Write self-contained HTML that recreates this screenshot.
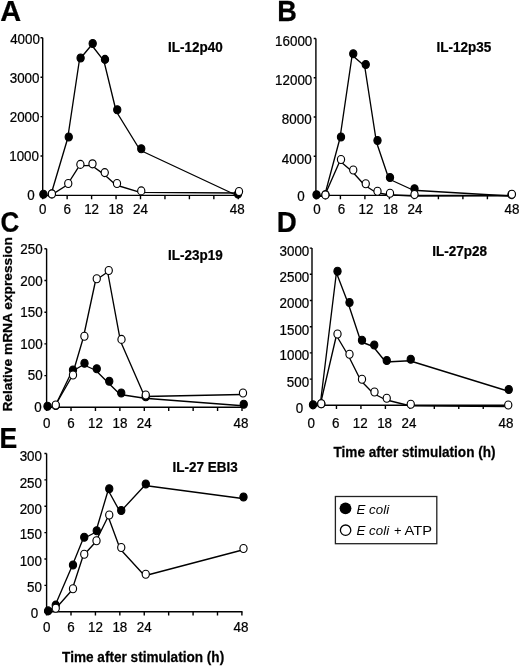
<!DOCTYPE html>
<html><head><meta charset="utf-8"><style>
html,body{margin:0;padding:0;background:#fff;}
svg{display:block;will-change:transform;}
text{font-family:"Liberation Sans", sans-serif;fill:#000;}
.t{stroke:#000;stroke-width:0.25px;}
</style></head><body>
<svg width="520" height="666" viewBox="0 0 520 666">
<g id="pA"><path d="M42.7 37.8V195.4H238.9" fill="none" stroke="#000" stroke-width="1.4"/>
<path d="M40.5 37.8H42.7M40.5 77.2H42.7M40.5 116.6H42.7M40.5 156H42.7M40.5 195.4H42.7M42.7 195.4V199.2M67.15 195.4V199.2M91.6 195.4V199.2M116.05 195.4V199.2M140.5 195.4V199.2M164.95 195.4V199.2M189.4 195.4V199.2M213.85 195.4V199.2M238.3 195.4V199.2" fill="none" stroke="#000" stroke-width="1.4"/>
<text transform="translate(39.9 43.6) scale(0.93 1)" class="t" text-anchor="end" font-size="14.4">4000</text>
<text transform="translate(39.5 83) scale(0.93 1)" class="t" text-anchor="end" font-size="14.4">3000</text>
<text transform="translate(39.5 122.3) scale(0.93 1)" class="t" text-anchor="end" font-size="14.4">2000</text>
<text transform="translate(39 161.2) scale(0.93 1)" class="t" text-anchor="end" font-size="14.4">1000</text>
<text transform="translate(34.6 199.9) scale(0.93 1)" class="t" text-anchor="end" font-size="14.4">0</text>
<text transform="translate(42.7 214.3) scale(0.93 1)" class="t" text-anchor="middle" font-size="14.4">0</text>
<text transform="translate(67.15 214.3) scale(0.93 1)" class="t" text-anchor="middle" font-size="14.4">6</text>
<text transform="translate(91.6 214.3) scale(0.93 1)" class="t" text-anchor="middle" font-size="14.4">12</text>
<text transform="translate(116.05 214.3) scale(0.93 1)" class="t" text-anchor="middle" font-size="14.4">18</text>
<text transform="translate(140.5 214.3) scale(0.93 1)" class="t" text-anchor="middle" font-size="14.4">24</text>
<text transform="translate(237.3 214.3) scale(0.93 1)" class="t" text-anchor="middle" font-size="14.4">48</text>
<text transform="translate(168 51.5) scale(0.93 1)" class="t" font-size="14.5" font-weight="bold">IL-12p40</text>
<text transform="translate(0.23 20.5) scale(0.98 1)" class="t" font-size="29.5" font-weight="bold">A</text>
<polyline transform="translate(-1.1 1.5)" points="43.4,194.2 51.8,194 68.75,137 80.6,58 92.7,43.5 105,59.4 117.25,109.75 141.25,148.75 238,194" fill="none" stroke="#000" stroke-width="1.35" stroke-linejoin="round"/>
<ellipse cx="43.4" cy="194.2" rx="3.6" ry="4.0" fill="#000" stroke="#000" stroke-width="1.15"/>
<ellipse cx="51.8" cy="194" rx="3.6" ry="4.0" fill="#000" stroke="#000" stroke-width="1.15"/>
<ellipse cx="68.75" cy="137" rx="3.6" ry="4.0" fill="#000" stroke="#000" stroke-width="1.15"/>
<ellipse cx="80.6" cy="58" rx="3.6" ry="4.0" fill="#000" stroke="#000" stroke-width="1.15"/>
<ellipse cx="92.7" cy="43.5" rx="3.6" ry="4.0" fill="#000" stroke="#000" stroke-width="1.15"/>
<ellipse cx="105" cy="59.4" rx="3.6" ry="4.0" fill="#000" stroke="#000" stroke-width="1.15"/>
<ellipse cx="117.25" cy="109.75" rx="3.6" ry="4.0" fill="#000" stroke="#000" stroke-width="1.15"/>
<ellipse cx="141.25" cy="148.75" rx="3.6" ry="4.0" fill="#000" stroke="#000" stroke-width="1.15"/>
<ellipse cx="238" cy="194" rx="3.6" ry="4.0" fill="#000" stroke="#000" stroke-width="1.15"/>
<polyline transform="translate(-1.1 1.5)" points="51.9,193.9 68.25,183.5 80.4,164.4 92.5,163.8 104.75,172.6 117,183.5 141.25,190.9 239,191.5" fill="none" stroke="#000" stroke-width="1.35" stroke-linejoin="round"/>
<ellipse cx="51.9" cy="193.9" rx="3.6" ry="4.0" fill="#fff" stroke="#000" stroke-width="1.15"/>
<ellipse cx="68.25" cy="183.5" rx="3.6" ry="4.0" fill="#fff" stroke="#000" stroke-width="1.15"/>
<ellipse cx="80.4" cy="164.4" rx="3.6" ry="4.0" fill="#fff" stroke="#000" stroke-width="1.15"/>
<ellipse cx="92.5" cy="163.8" rx="3.6" ry="4.0" fill="#fff" stroke="#000" stroke-width="1.15"/>
<ellipse cx="104.75" cy="172.6" rx="3.6" ry="4.0" fill="#fff" stroke="#000" stroke-width="1.15"/>
<ellipse cx="117" cy="183.5" rx="3.6" ry="4.0" fill="#fff" stroke="#000" stroke-width="1.15"/>
<ellipse cx="141.25" cy="190.9" rx="3.6" ry="4.0" fill="#fff" stroke="#000" stroke-width="1.15"/>
<ellipse cx="239" cy="191.5" rx="3.6" ry="4.0" fill="#fff" stroke="#000" stroke-width="1.15"/></g>
<g id="pB"><path d="M315.9 38.5V195.4H512.5" fill="none" stroke="#000" stroke-width="1.4"/>
<path d="M313.7 38.5H315.9M313.7 77.72H315.9M313.7 116.95H315.9M313.7 156.18H315.9M313.7 195.4H315.9M315.9 195.4V199.2M340.4 195.4V199.2M364.9 195.4V199.2M389.4 195.4V199.2M413.9 195.4V199.2M438.4 195.4V199.2M462.9 195.4V199.2M487.4 195.4V199.2M511.9 195.4V199.2" fill="none" stroke="#000" stroke-width="1.4"/>
<text transform="translate(312.3 46.1) scale(0.93 1)" class="t" text-anchor="end" font-size="14.4">16000</text>
<text transform="translate(312.3 84.7) scale(0.93 1)" class="t" text-anchor="end" font-size="14.4">12000</text>
<text transform="translate(311.6 124.2) scale(0.93 1)" class="t" text-anchor="end" font-size="14.4">8000</text>
<text transform="translate(311.6 163.7) scale(0.93 1)" class="t" text-anchor="end" font-size="14.4">4000</text>
<text transform="translate(304.7 200.5) scale(0.93 1)" class="t" text-anchor="end" font-size="14.4">0</text>
<text transform="translate(316.9 214.1) scale(0.93 1)" class="t" text-anchor="middle" font-size="14.4">0</text>
<text transform="translate(341.4 214.1) scale(0.93 1)" class="t" text-anchor="middle" font-size="14.4">6</text>
<text transform="translate(365.9 214.1) scale(0.93 1)" class="t" text-anchor="middle" font-size="14.4">12</text>
<text transform="translate(390.4 214.1) scale(0.93 1)" class="t" text-anchor="middle" font-size="14.4">18</text>
<text transform="translate(414.9 214.1) scale(0.93 1)" class="t" text-anchor="middle" font-size="14.4">24</text>
<text transform="translate(511.9 214.1) scale(0.93 1)" class="t" text-anchor="middle" font-size="14.4">48</text>
<text transform="translate(436.5 51.5) scale(0.93 1)" class="t" font-size="14.5" font-weight="bold">IL-12p35</text>
<text transform="translate(277.35 20.7) scale(0.92 1)" class="t" font-size="29.5" font-weight="bold">B</text>
<polyline transform="translate(-1.1 1.5)" points="316.5,194.8 325.5,194.8 341,137 353.25,53.75 365.75,64.5 377.5,140.5 390,177.5 414.5,188.75 511.5,194.5" fill="none" stroke="#000" stroke-width="1.35" stroke-linejoin="round"/>
<ellipse cx="316.5" cy="194.8" rx="3.6" ry="4.0" fill="#000" stroke="#000" stroke-width="1.15"/>
<ellipse cx="325.5" cy="194.8" rx="3.6" ry="4.0" fill="#000" stroke="#000" stroke-width="1.15"/>
<ellipse cx="341" cy="137" rx="3.6" ry="4.0" fill="#000" stroke="#000" stroke-width="1.15"/>
<ellipse cx="353.25" cy="53.75" rx="3.6" ry="4.0" fill="#000" stroke="#000" stroke-width="1.15"/>
<ellipse cx="365.75" cy="64.5" rx="3.6" ry="4.0" fill="#000" stroke="#000" stroke-width="1.15"/>
<ellipse cx="377.5" cy="140.5" rx="3.6" ry="4.0" fill="#000" stroke="#000" stroke-width="1.15"/>
<ellipse cx="390" cy="177.5" rx="3.6" ry="4.0" fill="#000" stroke="#000" stroke-width="1.15"/>
<ellipse cx="414.5" cy="188.75" rx="3.6" ry="4.0" fill="#000" stroke="#000" stroke-width="1.15"/>
<ellipse cx="511.5" cy="194.5" rx="3.6" ry="4.0" fill="#000" stroke="#000" stroke-width="1.15"/>
<polyline transform="translate(-1.1 1.5)" points="325.4,194.9 341,159.5 353.25,170 365.75,183.75 377.5,191.25 390,193.25 414.5,194.5 511.9,194.2" fill="none" stroke="#000" stroke-width="1.35" stroke-linejoin="round"/>
<ellipse cx="325.4" cy="194.9" rx="3.6" ry="4.0" fill="#fff" stroke="#000" stroke-width="1.15"/>
<ellipse cx="341" cy="159.5" rx="3.6" ry="4.0" fill="#fff" stroke="#000" stroke-width="1.15"/>
<ellipse cx="353.25" cy="170" rx="3.6" ry="4.0" fill="#fff" stroke="#000" stroke-width="1.15"/>
<ellipse cx="365.75" cy="183.75" rx="3.6" ry="4.0" fill="#fff" stroke="#000" stroke-width="1.15"/>
<ellipse cx="377.5" cy="191.25" rx="3.6" ry="4.0" fill="#fff" stroke="#000" stroke-width="1.15"/>
<ellipse cx="390" cy="193.25" rx="3.6" ry="4.0" fill="#fff" stroke="#000" stroke-width="1.15"/>
<ellipse cx="414.5" cy="194.5" rx="3.6" ry="4.0" fill="#fff" stroke="#000" stroke-width="1.15"/>
<ellipse cx="511.9" cy="194.2" rx="3.6" ry="4.0" fill="#fff" stroke="#000" stroke-width="1.15"/></g>
<g id="pC"><path d="M46.6 248.8V407.3H242.6" fill="none" stroke="#000" stroke-width="1.4"/>
<path d="M44.4 248.8H46.6M44.4 280.5H46.6M44.4 312.2H46.6M44.4 343.9H46.6M44.4 375.6H46.6M44.4 407.3H46.6M46.6 407.3V411.1M71.03 407.3V411.1M95.45 407.3V411.1M119.88 407.3V411.1M144.3 407.3V411.1M168.72 407.3V411.1M193.15 407.3V411.1M217.57 407.3V411.1M242 407.3V411.1" fill="none" stroke="#000" stroke-width="1.4"/>
<text transform="translate(42.6 253.9) scale(0.93 1)" class="t" text-anchor="end" font-size="14.4">250</text>
<text transform="translate(42.6 285.5) scale(0.93 1)" class="t" text-anchor="end" font-size="14.4">200</text>
<text transform="translate(42.6 316.5) scale(0.93 1)" class="t" text-anchor="end" font-size="14.4">150</text>
<text transform="translate(42.6 348.7) scale(0.93 1)" class="t" text-anchor="end" font-size="14.4">100</text>
<text transform="translate(42.6 380.2) scale(0.93 1)" class="t" text-anchor="end" font-size="14.4">50</text>
<text transform="translate(41.7 411.7) scale(0.93 1)" class="t" text-anchor="end" font-size="14.4">0</text>
<text transform="translate(46.6 427.9) scale(0.93 1)" class="t" text-anchor="middle" font-size="14.4">0</text>
<text transform="translate(71.03 427.9) scale(0.93 1)" class="t" text-anchor="middle" font-size="14.4">6</text>
<text transform="translate(95.45 427.9) scale(0.93 1)" class="t" text-anchor="middle" font-size="14.4">12</text>
<text transform="translate(119.88 427.9) scale(0.93 1)" class="t" text-anchor="middle" font-size="14.4">18</text>
<text transform="translate(144.3 427.9) scale(0.93 1)" class="t" text-anchor="middle" font-size="14.4">24</text>
<text transform="translate(241 427.9) scale(0.93 1)" class="t" text-anchor="middle" font-size="14.4">48</text>
<text transform="translate(168 259.6) scale(0.93 1)" class="t" font-size="14.5" font-weight="bold">IL-23p19</text>
<text transform="translate(0.5 232.2) scale(0.88 1)" class="t" font-size="29.5" font-weight="bold">C</text>
<polyline transform="translate(-1.1 1.5)" points="47.5,406.25 55.75,405.5 73,370 84.5,363.25 96.75,368.75 109.25,381.25 121.25,393 145.75,396.75 243.75,404.25" fill="none" stroke="#000" stroke-width="1.35" stroke-linejoin="round"/>
<ellipse cx="47.5" cy="406.25" rx="3.6" ry="4.0" fill="#000" stroke="#000" stroke-width="1.15"/>
<ellipse cx="55.75" cy="405.5" rx="3.6" ry="4.0" fill="#000" stroke="#000" stroke-width="1.15"/>
<ellipse cx="73" cy="370" rx="3.6" ry="4.0" fill="#000" stroke="#000" stroke-width="1.15"/>
<ellipse cx="84.5" cy="363.25" rx="3.6" ry="4.0" fill="#000" stroke="#000" stroke-width="1.15"/>
<ellipse cx="96.75" cy="368.75" rx="3.6" ry="4.0" fill="#000" stroke="#000" stroke-width="1.15"/>
<ellipse cx="109.25" cy="381.25" rx="3.6" ry="4.0" fill="#000" stroke="#000" stroke-width="1.15"/>
<ellipse cx="121.25" cy="393" rx="3.6" ry="4.0" fill="#000" stroke="#000" stroke-width="1.15"/>
<ellipse cx="145.75" cy="396.75" rx="3.6" ry="4.0" fill="#000" stroke="#000" stroke-width="1.15"/>
<ellipse cx="243.75" cy="404.25" rx="3.6" ry="4.0" fill="#000" stroke="#000" stroke-width="1.15"/>
<polyline transform="translate(-1.1 1.5)" points="55.75,405 73,375 84.4,336.25 96.75,278.75 108.75,270.5 121.5,339.4 145.75,395 243,393" fill="none" stroke="#000" stroke-width="1.35" stroke-linejoin="round"/>
<ellipse cx="55.75" cy="405" rx="3.6" ry="4.0" fill="#fff" stroke="#000" stroke-width="1.15"/>
<ellipse cx="73" cy="375" rx="3.6" ry="4.0" fill="#fff" stroke="#000" stroke-width="1.15"/>
<ellipse cx="84.4" cy="336.25" rx="3.6" ry="4.0" fill="#fff" stroke="#000" stroke-width="1.15"/>
<ellipse cx="96.75" cy="278.75" rx="3.6" ry="4.0" fill="#fff" stroke="#000" stroke-width="1.15"/>
<ellipse cx="108.75" cy="270.5" rx="3.6" ry="4.0" fill="#fff" stroke="#000" stroke-width="1.15"/>
<ellipse cx="121.5" cy="339.4" rx="3.6" ry="4.0" fill="#fff" stroke="#000" stroke-width="1.15"/>
<ellipse cx="145.75" cy="395" rx="3.6" ry="4.0" fill="#fff" stroke="#000" stroke-width="1.15"/>
<ellipse cx="243" cy="393" rx="3.6" ry="4.0" fill="#fff" stroke="#000" stroke-width="1.15"/></g>
<g id="pD"><path d="M312 248.1V405.3H508.3" fill="none" stroke="#000" stroke-width="1.4"/>
<path d="M309.8 248.1H312M309.8 274.3H312M309.8 300.5H312M309.8 326.7H312M309.8 352.9H312M309.8 379.1H312M309.8 405.3H312M312 405.3V409.1M336.46 405.3V409.1M360.93 405.3V409.1M385.39 405.3V409.1M409.85 405.3V409.1M434.31 405.3V409.1M458.77 405.3V409.1M483.24 405.3V409.1M507.7 405.3V409.1" fill="none" stroke="#000" stroke-width="1.4"/>
<text transform="translate(309.3 255.6) scale(0.93 1)" class="t" text-anchor="end" font-size="14.4">3000</text>
<text transform="translate(309.3 281.5) scale(0.93 1)" class="t" text-anchor="end" font-size="14.4">2500</text>
<text transform="translate(309.3 307.7) scale(0.93 1)" class="t" text-anchor="end" font-size="14.4">2000</text>
<text transform="translate(309.3 334.6) scale(0.93 1)" class="t" text-anchor="end" font-size="14.4">1500</text>
<text transform="translate(309.3 360.3) scale(0.93 1)" class="t" text-anchor="end" font-size="14.4">1000</text>
<text transform="translate(309.1 386.7) scale(0.93 1)" class="t" text-anchor="end" font-size="14.4">500</text>
<text transform="translate(303.3 413) scale(0.93 1)" class="t" text-anchor="end" font-size="14.4">0</text>
<text transform="translate(311.2 428) scale(0.93 1)" class="t" text-anchor="middle" font-size="14.4">0</text>
<text transform="translate(335.66 428) scale(0.93 1)" class="t" text-anchor="middle" font-size="14.4">6</text>
<text transform="translate(360.12 428) scale(0.93 1)" class="t" text-anchor="middle" font-size="14.4">12</text>
<text transform="translate(384.59 428) scale(0.93 1)" class="t" text-anchor="middle" font-size="14.4">18</text>
<text transform="translate(409.05 428) scale(0.93 1)" class="t" text-anchor="middle" font-size="14.4">24</text>
<text transform="translate(505.9 428) scale(0.93 1)" class="t" text-anchor="middle" font-size="14.4">48</text>
<text transform="translate(432.3 256.1) scale(0.93 1)" class="t" font-size="14.5" font-weight="bold">IL-27p28</text>
<text transform="translate(276.86 232.3) scale(0.94 1)" class="t" font-size="29.5" font-weight="bold">D</text>
<polyline transform="translate(-1.1 1.5)" points="313,404.8 321.25,403.75 337.5,271.25 349.5,302.5 362,340.25 374.25,345 386.75,360.5 410.75,359.25 508.75,389.5" fill="none" stroke="#000" stroke-width="1.35" stroke-linejoin="round"/>
<ellipse cx="313" cy="404.8" rx="3.6" ry="4.0" fill="#000" stroke="#000" stroke-width="1.15"/>
<ellipse cx="321.25" cy="403.75" rx="3.6" ry="4.0" fill="#000" stroke="#000" stroke-width="1.15"/>
<ellipse cx="337.5" cy="271.25" rx="3.6" ry="4.0" fill="#000" stroke="#000" stroke-width="1.15"/>
<ellipse cx="349.5" cy="302.5" rx="3.6" ry="4.0" fill="#000" stroke="#000" stroke-width="1.15"/>
<ellipse cx="362" cy="340.25" rx="3.6" ry="4.0" fill="#000" stroke="#000" stroke-width="1.15"/>
<ellipse cx="374.25" cy="345" rx="3.6" ry="4.0" fill="#000" stroke="#000" stroke-width="1.15"/>
<ellipse cx="386.75" cy="360.5" rx="3.6" ry="4.0" fill="#000" stroke="#000" stroke-width="1.15"/>
<ellipse cx="410.75" cy="359.25" rx="3.6" ry="4.0" fill="#000" stroke="#000" stroke-width="1.15"/>
<ellipse cx="508.75" cy="389.5" rx="3.6" ry="4.0" fill="#000" stroke="#000" stroke-width="1.15"/>
<polyline transform="translate(-1.1 1.5)" points="321.25,403.75 337.5,334 349.5,354.25 362,379.25 374.5,392 386.75,398.25 410.75,404.25 508.25,405" fill="none" stroke="#000" stroke-width="1.35" stroke-linejoin="round"/>
<ellipse cx="321.25" cy="403.75" rx="3.6" ry="4.0" fill="#fff" stroke="#000" stroke-width="1.15"/>
<ellipse cx="337.5" cy="334" rx="3.6" ry="4.0" fill="#fff" stroke="#000" stroke-width="1.15"/>
<ellipse cx="349.5" cy="354.25" rx="3.6" ry="4.0" fill="#fff" stroke="#000" stroke-width="1.15"/>
<ellipse cx="362" cy="379.25" rx="3.6" ry="4.0" fill="#fff" stroke="#000" stroke-width="1.15"/>
<ellipse cx="374.5" cy="392" rx="3.6" ry="4.0" fill="#fff" stroke="#000" stroke-width="1.15"/>
<ellipse cx="386.75" cy="398.25" rx="3.6" ry="4.0" fill="#fff" stroke="#000" stroke-width="1.15"/>
<ellipse cx="410.75" cy="404.25" rx="3.6" ry="4.0" fill="#fff" stroke="#000" stroke-width="1.15"/>
<ellipse cx="508.25" cy="405" rx="3.6" ry="4.0" fill="#fff" stroke="#000" stroke-width="1.15"/></g>
<g id="pE"><path d="M46.6 453.5V611.8H242.5" fill="none" stroke="#000" stroke-width="1.4"/>
<path d="M44.4 453.5H46.6M44.4 479.88H46.6M44.4 506.27H46.6M44.4 532.65H46.6M44.4 559.03H46.6M44.4 585.42H46.6M44.4 611.8H46.6M46.6 611.8V615.6M71.01 611.8V615.6M95.43 611.8V615.6M119.84 611.8V615.6M144.25 611.8V615.6M168.66 611.8V615.6M193.08 611.8V615.6M217.49 611.8V615.6M241.9 611.8V615.6" fill="none" stroke="#000" stroke-width="1.4"/>
<text transform="translate(42 461.1) scale(0.93 1)" class="t" text-anchor="end" font-size="14.4">300</text>
<text transform="translate(42 487.5) scale(0.93 1)" class="t" text-anchor="end" font-size="14.4">250</text>
<text transform="translate(42 513.7) scale(0.93 1)" class="t" text-anchor="end" font-size="14.4">200</text>
<text transform="translate(42 538.9) scale(0.93 1)" class="t" text-anchor="end" font-size="14.4">150</text>
<text transform="translate(42 565.9) scale(0.93 1)" class="t" text-anchor="end" font-size="14.4">100</text>
<text transform="translate(42 591.6) scale(0.93 1)" class="t" text-anchor="end" font-size="14.4">50</text>
<text transform="translate(38.2 617.9) scale(0.93 1)" class="t" text-anchor="end" font-size="14.4">0</text>
<text transform="translate(46.6 631.9) scale(0.93 1)" class="t" text-anchor="middle" font-size="14.4">0</text>
<text transform="translate(71.01 631.9) scale(0.93 1)" class="t" text-anchor="middle" font-size="14.4">6</text>
<text transform="translate(95.43 631.9) scale(0.93 1)" class="t" text-anchor="middle" font-size="14.4">12</text>
<text transform="translate(119.84 631.9) scale(0.93 1)" class="t" text-anchor="middle" font-size="14.4">18</text>
<text transform="translate(144.25 631.9) scale(0.93 1)" class="t" text-anchor="middle" font-size="14.4">24</text>
<text transform="translate(240.9 631.9) scale(0.93 1)" class="t" text-anchor="middle" font-size="14.4">48</text>
<text transform="translate(172.5 471.7) scale(0.93 1)" class="t" font-size="14.5" font-weight="bold">IL-27 EBI3</text>
<text transform="translate(-0.56 447.6) scale(0.9 1)" class="t" font-size="29.5" font-weight="bold">E</text>
<polyline transform="translate(-1.1 1.5)" points="48.1,610.9 55.75,605.1 73,565 84.25,537.25 96.75,530.75 109.25,488.75 121.25,510.5 145.8,484 243.5,497" fill="none" stroke="#000" stroke-width="1.35" stroke-linejoin="round"/>
<ellipse cx="48.1" cy="610.9" rx="3.6" ry="4.0" fill="#000" stroke="#000" stroke-width="1.15"/>
<ellipse cx="55.75" cy="605.1" rx="3.6" ry="4.0" fill="#000" stroke="#000" stroke-width="1.15"/>
<ellipse cx="73" cy="565" rx="3.6" ry="4.0" fill="#000" stroke="#000" stroke-width="1.15"/>
<ellipse cx="84.25" cy="537.25" rx="3.6" ry="4.0" fill="#000" stroke="#000" stroke-width="1.15"/>
<ellipse cx="96.75" cy="530.75" rx="3.6" ry="4.0" fill="#000" stroke="#000" stroke-width="1.15"/>
<ellipse cx="109.25" cy="488.75" rx="3.6" ry="4.0" fill="#000" stroke="#000" stroke-width="1.15"/>
<ellipse cx="121.25" cy="510.5" rx="3.6" ry="4.0" fill="#000" stroke="#000" stroke-width="1.15"/>
<ellipse cx="145.8" cy="484" rx="3.6" ry="4.0" fill="#000" stroke="#000" stroke-width="1.15"/>
<ellipse cx="243.5" cy="497" rx="3.6" ry="4.0" fill="#000" stroke="#000" stroke-width="1.15"/>
<polyline transform="translate(-1.1 1.5)" points="55.75,608.25 73,588.75 84.25,554.25 96.5,540.75 109.25,515 121.25,547.5 145.75,574.25 243.5,548.5" fill="none" stroke="#000" stroke-width="1.35" stroke-linejoin="round"/>
<ellipse cx="55.75" cy="608.25" rx="3.6" ry="4.0" fill="#fff" stroke="#000" stroke-width="1.15"/>
<ellipse cx="73" cy="588.75" rx="3.6" ry="4.0" fill="#fff" stroke="#000" stroke-width="1.15"/>
<ellipse cx="84.25" cy="554.25" rx="3.6" ry="4.0" fill="#fff" stroke="#000" stroke-width="1.15"/>
<ellipse cx="96.5" cy="540.75" rx="3.6" ry="4.0" fill="#fff" stroke="#000" stroke-width="1.15"/>
<ellipse cx="109.25" cy="515" rx="3.6" ry="4.0" fill="#fff" stroke="#000" stroke-width="1.15"/>
<ellipse cx="121.25" cy="547.5" rx="3.6" ry="4.0" fill="#fff" stroke="#000" stroke-width="1.15"/>
<ellipse cx="145.75" cy="574.25" rx="3.6" ry="4.0" fill="#fff" stroke="#000" stroke-width="1.15"/>
<ellipse cx="243.5" cy="548.5" rx="3.6" ry="4.0" fill="#fff" stroke="#000" stroke-width="1.15"/></g>
<text transform="translate(11.55 411.6) rotate(-90) scale(1.004 1)" class="t" font-size="13.7" font-weight="bold">Relative mRNA expression</text>
<text transform="translate(333.5 456.5) scale(0.958 1)" class="t" font-size="14.2" font-weight="bold">Time after stimulation (h)</text>
<text transform="translate(62.1 662.0) scale(0.958 1)" class="t" font-size="14.2" font-weight="bold">Time after stimulation (h)</text>
<rect x="335.4" y="496.5" width="101.4" height="47.2" fill="none" stroke="#222" stroke-width="1.3"/>
<circle cx="345.5" cy="508.3" r="5.9" fill="#000"/>
<circle cx="345.6" cy="530.2" r="5.2" fill="#fff" stroke="#000" stroke-width="1.3"/>
<text x="356.5" y="514" font-size="13" font-style="italic" textLength="32.6" lengthAdjust="spacingAndGlyphs">E coli</text>
<text x="356.5" y="535.4" font-size="13" font-style="italic" textLength="32.6" lengthAdjust="spacingAndGlyphs">E coli</text>
<text x="394.0" y="535.4" font-size="13">+</text>
<text x="404.6" y="535.4" font-size="13" textLength="27.4" lengthAdjust="spacingAndGlyphs">ATP</text>
</svg>
</body></html>
